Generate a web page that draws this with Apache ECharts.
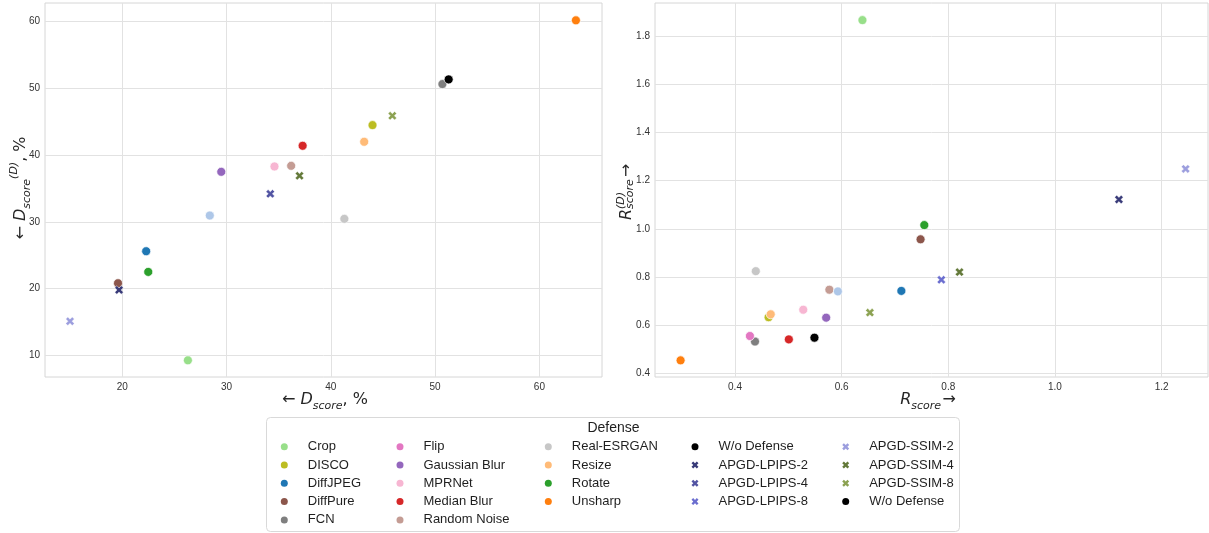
<!DOCTYPE html>
<html><head><meta charset="utf-8">
<script src="https://cdn.jsdelivr.net/npm/echarts@6/dist/echarts.min.js"></script>
<style>html,body{margin:0;padding:0;background:#fff}#c{width:1209px;height:533px}</style>
</head><body><div id="c"></div>
<script>
// ---------- data ----------
const seriesNames = ['Crop','DISCO','DiffJPEG','DiffPure','FCN','Flip','Gaussian Blur','MPRNet','Median Blur','Random Noise','Real-ESRGAN','Resize','Rotate','Unsharp','Unlabeled','W/o Defense','APGD-LPIPS-2','APGD-LPIPS-4','APGD-LPIPS-8','APGD-SSIM-2','APGD-SSIM-4','APGD-SSIM-8'];
const seriesMarkers = ['o','o','o','o','o','o','o','o','o','o','o','o','o','o','o','o','x','x','x','x','x','x'];
const seriesColors = ['#98df8a','#bcbd22','#1f77b4','#8c564b','#7f7f7f','#e377c2','#9467bd','#f7b6d2','#d62728','#c49c94','#c7c7c7','#ffbb78','#2ca02c','#ff7f0e','#aec7e8','#000000','#393b79','#5254a3','#6b6ecf','#9c9ede','#637939','#8ca252'];
// left panel: D_score (%), D_score^(D) (%)
const leftX = [26.3, 44.0, 22.3, 19.6, 50.7, null, 29.5, 34.6, 37.3, 36.2, 41.3, 43.2, 22.5, 63.5, 28.4, 51.3, 19.7, 34.2, null, 15.0, 37.0, 45.9];
const leftY = [9.25, 44.5, 25.6, 20.8, 50.65, null, 37.5, 38.3, 41.4, 38.4, 30.45, 42.0, 22.5, 60.2, 30.95, 51.35, 19.8, 34.2, null, 15.1, 36.9, 45.9];
// right panel: R_score, R_score^(D)
const rightX = [0.639, 0.463, 0.712, 0.748, 0.4375, 0.428, 0.571, 0.528, 0.501, 0.577, 0.439, 0.467, 0.755, 0.298, 0.593, 0.549, 1.120, null, 0.787, 1.245, 0.821, 0.653];
const rightY = [1.866, 0.634, 0.743, 0.957, 0.533, 0.556, 0.632, 0.665, 0.542, 0.748, 0.825, 0.646, 1.016, 0.455, 0.741, 0.549, 1.122, null, 0.789, 1.249, 0.821, 0.653];
const leftXTicks = [20, 30, 40, 50, 60];
const leftYTicks = [10, 20, 30, 40, 50, 60];
const rightXTicks = [0.4, 0.6, 0.8, 1.0, 1.2];
const rightYTicks = [0.4, 0.6, 0.8, 1.0, 1.2, 1.4, 1.6, 1.8];
const legendTitle = 'Defense';
const legendCol1 = ['Crop','DISCO','DiffJPEG','DiffPure','FCN'];
const legendCol2 = ['Flip','Gaussian Blur','MPRNet','Median Blur','Random Noise'];
const legendCol3 = ['Real-ESRGAN','Resize','Rotate','Unsharp'];
const legendCol4 = ['W/o Defense','APGD-LPIPS-2','APGD-LPIPS-4','APGD-LPIPS-8'];
const legendCol5 = ['APGD-SSIM-2','APGD-SSIM-4','APGD-SSIM-8','W/o Defense'];

// ---------- chart ----------
const SANS = 'Liberation Sans, Arial, sans-serif';
const MATH = 'DejaVu Sans, sans-serif';
const X_PATH = 'path://M0,2.4 L2.4,0 L5,2.6 L7.6,0 L10,2.4 L7.4,5 L10,7.6 L7.6,10 L5,7.4 L2.4,10 L0,7.6 L2.6,5 Z';

const series = [];
seriesNames.forEach((name, i) => {
  const panels = [[leftX[i], leftY[i]], [rightX[i], rightY[i]]];
  panels.forEach((p, g) => {
    if (p[0] == null) return;
    const isX = seriesMarkers[i] === 'x';
    series.push({
      type: 'scatter', name: name, xAxisIndex: g, yAxisIndex: g,
      data: [[p[0], p[1]]],
      symbol: isX ? X_PATH : 'circle',
      symbolSize: isX ? 8.5 : 9,
      itemStyle: { color: seriesColors[i], borderColor: '#ffffff', borderWidth: isX ? 0.4 : 0.7, opacity: 1 },
      emphasis: { disabled: true },
      z: 3
    });
  });
});

function mkAxis(gi, min, max, ticks, decimals) {
  return {
    type: 'value', gridIndex: gi, min: min, max: max,
    axisLine: { show: false },
    axisTick: { show: false, customValues: ticks },
    axisLabel: { customValues: ticks, fontSize: 10, color: '#333', fontFamily: SANS, margin: 5,
      formatter: v => Number(v).toFixed(decimals) },
    splitLine: { show: true, lineStyle: { color: '#e2e2e2', width: 1 } }
  };
}

function legendItem(name) {
  const i = seriesNames.indexOf(name);
  const isX = seriesMarkers[i] === 'x';
  return { name: name, icon: isX ? X_PATH : 'circle', itemStyle: { color: seriesColors[i], borderWidth: 0 } };
}

const legendBase = {
  orient: 'vertical', padding: 0, itemGap: 0.3, itemWidth: 7, itemHeight: 7,
  selectedMode: false,
  textStyle: { fontSize: 13, fontFamily: SANS, color: '#1f1f1f', lineHeight: 18, padding: [0, 0, 0, 15] }
};
const legendCenters = [284.3, 400, 548.3, 695, 845.7];
const legendCols = [legendCol1, legendCol2, legendCol3, legendCol4, legendCol5];
const legends = legendCols.map((col, k) => Object.assign({}, legendBase, { left: legendCenters[k] - 3.5, top: 437.7, data: col.map(legendItem) }));

const mathRich = {
  a: { fontSize: 16, fontFamily: MATH, lineHeight: 24, verticalAlign: 'middle', fill: '#262626' },
  m: { fontSize: 16, fontFamily: MATH, fontStyle: 'italic', lineHeight: 24, verticalAlign: 'middle', fill: '#262626' },
  s: { fontSize: 11, fontFamily: MATH, fontStyle: 'italic', lineHeight: 14, verticalAlign: 'bottom', fill: '#262626' },
  p: { fontSize: 11, fontFamily: MATH, fontStyle: 'italic', lineHeight: 14, verticalAlign: 'top', fill: '#262626' },
  g: { fontSize: 5, lineHeight: 24, verticalAlign: 'middle' }
};

const option = {
  backgroundColor: '#ffffff',
  animation: false,
  grid: [
    { left: 45, top: 3, width: 557, height: 374, show: true, borderColor: '#d6d6d6', borderWidth: 1, outerBoundsMode: 'none' },
    { left: 655, top: 3, width: 553, height: 374, show: true, borderColor: '#d6d6d6', borderWidth: 1, outerBoundsMode: 'none' }
  ],
  xAxis: [mkAxis(0, 12.6, 66, leftXTicks, 0), mkAxis(1, 0.25, 1.287, rightXTicks, 1)],
  yAxis: [mkAxis(0, 6.75, 62.8, leftYTicks, 0), mkAxis(1, 0.386, 1.937, rightYTicks, 1)],
  legend: legends,
  series: series,
  graphic: [
    { type: 'rect', z: 0, shape: { x: 266.5, y: 417.5, width: 693, height: 114, r: 4 }, style: { fill: '#ffffff', stroke: '#d9d9d9', lineWidth: 1 } },
    { type: 'text', z: 10, x: 613.5, y: 428.3, style: { text: legendTitle, font: '14px ' + SANS, fill: '#1f1f1f', align: 'center', verticalAlign: 'middle' } },
    { type: 'text', z: 10, x: 325, y: 399.5, style: { text: '{a|← }{m|D}{s|score}{a|, %}', rich: mathRich, align: 'center', verticalAlign: 'middle' } },
    { type: 'text', z: 10, x: 928, y: 399.5, style: { text: '{m|R}{s|score}{g| }{a|→}', rich: mathRich, align: 'center', verticalAlign: 'middle' } },
    { type: 'text', z: 10, x: 21, y: 188, rotation: Math.PI / 2, style: { text: '{a|← }{m|D}{s|score}{p|(D)}{a|, %}', rich: mathRich, align: 'center', verticalAlign: 'middle' } },
    { type: 'group', z: 10, x: 627, y: 192, rotation: Math.PI / 2, children: [
      { type: 'text', x: -28, y: 0, style: { text: 'R', font: 'italic 16px ' + MATH, fill: '#262626', align: 'left', verticalAlign: 'middle' } },
      { type: 'text', x: -17, y: -6, style: { text: '(D)', font: 'italic 11px ' + MATH, fill: '#262626', align: 'left', verticalAlign: 'middle' } },
      { type: 'text', x: -17, y: 3.5, style: { text: 'score', font: 'italic 11px ' + MATH, fill: '#262626', align: 'left', verticalAlign: 'middle' } },
      { type: 'text', x: 15, y: 0, style: { text: '→', font: '16px ' + MATH, fill: '#262626', align: 'left', verticalAlign: 'middle' } }
    ] }
  ]
};

const chart = echarts.init(document.getElementById('c'), null, { renderer: 'canvas' });
chart.setOption(option);
</script>
</body></html>
